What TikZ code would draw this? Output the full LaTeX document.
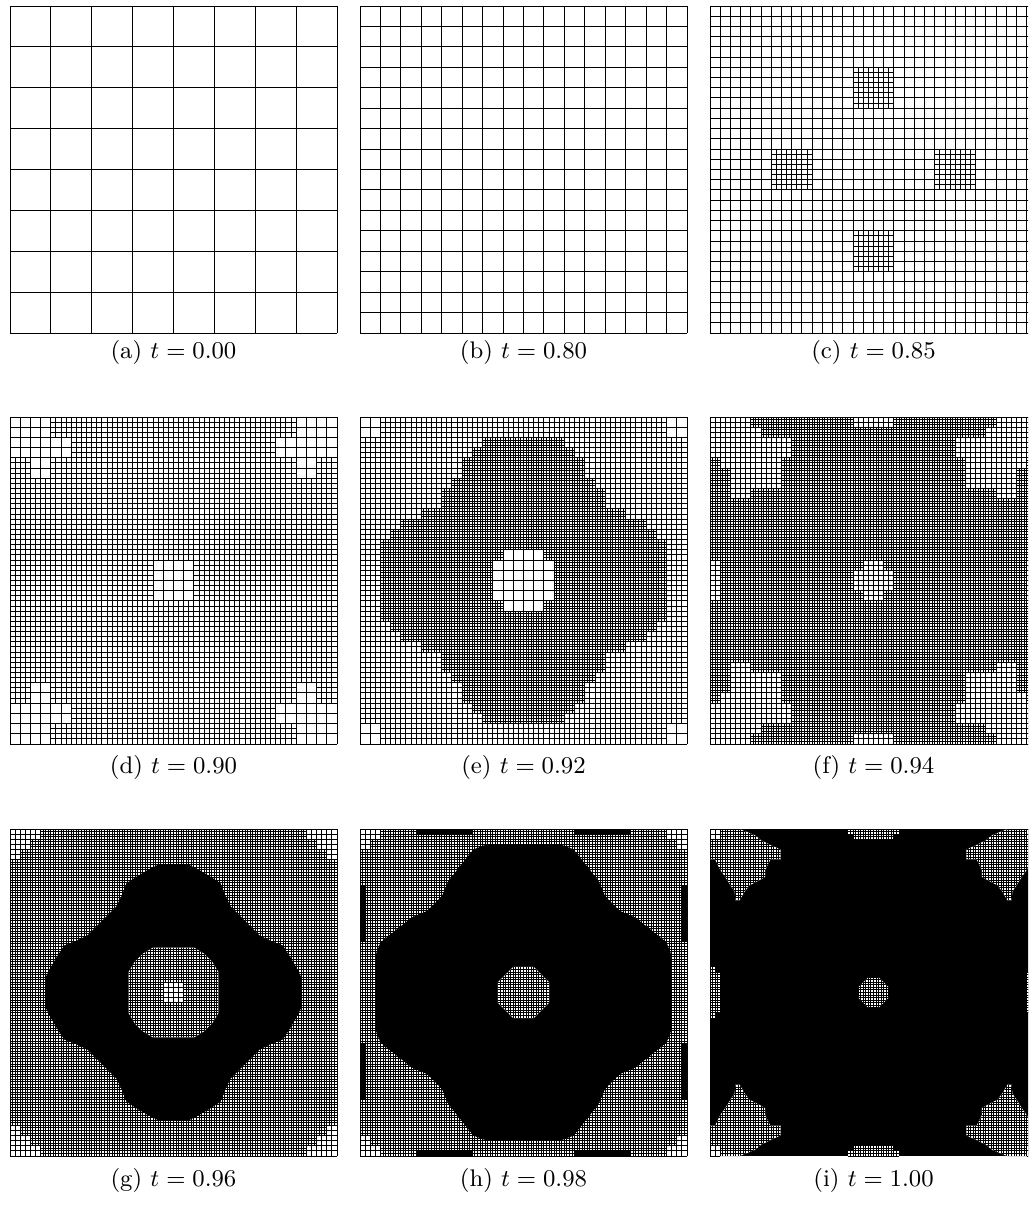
\documentclass[tikz,border=0pt]{standalone}
\usepackage{tikz}
\tikzset{meshline/.style={line width=0.37pt, black}, caplabel/.style={inner sep=0pt, font=\fontsize{9}{11}\selectfont}}
% grid of spacing #1 on rectangle (#2,#3)-(#4,#5)
\newcommand\gridr[5]{%
  \pgfmathtruncatemacro\gnx{round(((#4)-(#2))/(#1))}%
  \pgfmathtruncatemacro\gny{round(((#5)-(#3))/(#1))}%
  \draw[meshline] \foreach \k in {0,...,\gnx}{({(#2)+\k*(#1)},{#3}) -- ({(#2)+\k*(#1)},{#5})}
    \foreach \k in {0,...,\gny}{({#2},{(#3)+\k*(#1)}) -- ({#4},{(#3)+\k*(#1)})};%
}
\newcommand\paint[5]{\fill[white] ({#2},{#3}) rectangle ({#4},{#5}); \gridr{#1}{#2}{#3}{#4}{#5}}
\newcommand\paintsym[2]{%
  \foreach \pa/\pb/\pc/\pd in {#2}{%
    \paint{#1}{\pa}{\pb}{\pc}{\pd}%
    \paint{#1}{32-\pc}{\pb}{32-\pa}{\pd}%
    \paint{#1}{\pa}{32-\pd}{\pc}{32-\pb}%
    \paint{#1}{32-\pc}{32-\pd}{32-\pa}{32-\pb}%
  }}
% shape with 4-fold rotational symmetry about (16,16); #1 = top radius, #2 = first quadrant points
\newcommand\rotshape[2]{(16,{16-(#1)})
  \foreach \p/\q in {#2}{--({16+(\p)},{16+(\q)})}
  \foreach \p/\q in {#2}{--({16+(\q)},{16-(\p)})}
  \foreach \p/\q in {#2}{--({16-(\p)},{16-(\q)})}
  \foreach \p/\q in {#2}{--({16-(\q)},{16+(\p)})} -- cycle}
\newcommand\cornershape[5]{({#1},{#2})
  \foreach \p/\q in {#5}{--({(#1)+(#3)*(\p)},{(#2)+(#4)*(\q)})} -- cycle}
\begin{document}
\begin{tikzpicture}[x=0.374pt,y=-0.374pt]
\useasboundingbox (0,0) rectangle (1028,1209);
\clip (0,0) rectangle (1028,1209);
% (a)
\begin{scope}[shift={(10,6)},x=3.8217pt,y=-3.8217pt]
  \gridr{4}{0}{0}{32}{32}
\end{scope}
% (b)
\begin{scope}[shift={(360,6)},x=3.8217pt,y=-3.8217pt]
  \gridr{2}{0}{0}{32}{32}
\end{scope}
% (c)
\begin{scope}[shift={(710,6)},x=3.8217pt,y=-3.8217pt]
  \gridr{1}{0}{0}{32}{32}
  \gridr{0.5}{14}{6}{18}{10}
  \gridr{0.5}{6}{14}{10}{18}
  \gridr{0.5}{22}{14}{26}{18}
  \gridr{0.5}{14}{22}{18}{26}
\end{scope}
% (d)
\begin{scope}[shift={(10,417)},x=3.8217pt,y=-3.8217pt]
  \gridr{0.5}{0}{0}{32}{32}
  \paintsym{1}{0/0/4/2, 0/2/6/4, 2/4/4/6}
  \paint{1}{14}{14}{18}{18}
\end{scope}
% (e)
\begin{scope}[shift={(360,417)},x=3.8217pt,y=-3.8217pt]
  \gridr{0.5}{0}{0}{32}{32}
  \begin{scope}
    \clip (12,2) -- (20,2) -- (20,3) -- (21,3) -- (21,4) -- (22,4) -- (22,6) -- (23,6) -- (23,7) -- (24,7) -- (24,9) -- (26,9) -- (26,10) -- (28,10) -- (28,11) -- (29,11) -- (29,12) -- (30,12) -- (30,20) -- (29,20) -- (29,21) -- (28,21) -- (28,22) -- (26,22) -- (26,23) -- (24,23) -- (24,25) -- (23,25) -- (23,26) -- (22,26) -- (22,28) -- (21,28) -- (21,29) -- (20,29) -- (20,30) -- (12,30) -- (12,29) -- (11,29) -- (11,28) -- (10,28) -- (10,26) -- (9,26) -- (9,25) -- (8,25) -- (8,23) -- (6,23) -- (6,22) -- (4,22) -- (4,21) -- (3,21) -- (3,20) -- (2,20) -- (2,12) -- (3,12) -- (3,11) -- (4,11) -- (4,10) -- (6,10) -- (6,9) -- (8,9) -- (8,7) -- (9,7) -- (9,6) -- (10,6) -- (10,4) -- (11,4) -- (11,3) -- (12,3) -- cycle;
    \gridr{0.25}{2}{2}{30}{30}
  \end{scope}
  \begin{scope}
    \clip (14,13) -- (18,13) -- (18,14) -- (19,14) -- (19,18) -- (18,18) -- (18,19) -- (14,19) -- (14,18) -- (13,18) -- (13,14) -- (14,14) -- cycle;
    \fill[white] (13,13) rectangle (19,19);
    \gridr{1}{13}{13}{19}{19}
  \end{scope}
  \paintsym{1}{0/0/2/2}
\end{scope}
% (f)
\begin{scope}[shift={(710,417)},x=3.8217pt,y=-3.8217pt]
  \gridr{0.25}{0}{0}{32}{32}
  \paintsym{0.5}{0/0/4/1, 0/1/5/2, 0/2/8/4, 1/4/7/5, 2/5/7/7, 2/7/4/8, 14/0/18/1, 0/14/1/18}
  \paint{0.5}{15}{14}{17}{15}
  \paint{0.5}{14}{15}{18}{17}
  \paint{0.5}{15}{17}{17}{18}
\end{scope}
% (g)
\begin{scope}[shift={(10,829)},x=3.8217pt,y=-3.8217pt]
  \gridr{0.25}{0}{0}{32}{32}
  \fill[black] \rotshape{12.5}{0/-12.5, -1.5/-12.5, -2.5/-12, -3.6/-11.35, -4.6/-10.7, -5.1/-9.4, -5.6/-8.4, -6.6/-7.4, -7.4/-6.6, -8.4/-5.6, -9.4/-5.1, -10.7/-4.6, -11.35/-3.6, -12/-2.5, -12.5/-1.5, -12.5/0};
  \begin{scope}
    \clip \rotshape{4.4}{0/-4.4, -2/-4.4, -3/-3.8, -3.8/-3, -4.4/-2, -4.4/0};
    \fill[white] (11,11) rectangle (21,21);
    \gridr{0.25}{11}{11}{21}{21}
  \end{scope}
  \paint{0.5}{15}{15}{17}{17}
  \paintsym{0.5}{0/0/3/1, 0/1/2/2, 0/2/1/3}
\end{scope}
% (h)
\begin{scope}[shift={(360,829)},x=3.8217pt,y=-3.8217pt]
  \gridr{0.25}{0}{0}{32}{32}
  \fill[black] \rotshape{14.5}{0/-14.5, -3.6/-14.5, -4.9/-14, -5.7/-13, -6.5/-12, -7.35/-10.9, -8/-9.4, -8.7/-8.7, -9.4/-8, -10.9/-7.35, -12/-6.5, -13/-5.7, -14/-4.9, -14.5/-3.6, -14.5/0};
  \fill[black] (5.5,0) rectangle (11,0.5) (21,0) rectangle (26.5,0.5)
    (5.5,31.5) rectangle (11,32) (21,31.5) rectangle (26.5,32)
    (0,5.5) rectangle (0.5,11) (0,21) rectangle (0.5,26.5)
    (31.5,5.5) rectangle (32,11) (31.5,21) rectangle (32,26.5);
  \begin{scope}
    \clip \rotshape{2.5}{0/-2.5, -1/-2.5, -1.5/-2, -2/-1.5, -2.5/-1, -2.5/0};
    \fill[white] (13,13) rectangle (19,19);
    \gridr{0.25}{13}{13}{19}{19}
  \end{scope}
  \paintsym{0.5}{0/0/2/1, 0/1/1/2}
\end{scope}
% (i)
\begin{scope}[shift={(710,829)},x=3.8217pt,y=-3.8217pt]
  \fill[black] (0,0) rectangle (32,32);
  \foreach \ox/\oy/\sx/\sy in {0/0/1/1, 32/0/-1/1, 0/32/1/-1, 32/32/-1/-1}{
    \begin{scope}
      \clip \cornershape{\ox}{\oy}{\sx}{\sy}{2.9/0, 4.4/0.6, 5/1.1, 6/1.6, 6.9/2, 6.9/3, 5.9/3, 5.4/4, 5.4/4.7, 3.9/5.5, 3.4/6.1, 2.9/7, 2.5/7, 2.4/6.1, 2/5.5, 1.5/4.7, 1/4, 0.5/3, 0/3};
      \fill[white] (0,0) rectangle (32,32);
      \gridr{0.25}{0}{0}{32}{32}
    \end{scope}
  }
  \paintsym{0.25}{13.5/0/18.5/0.5, 14/0.5/18/1, 0/13.5/0.5/18.5, 0.5/14/1/18}
  \begin{scope}
    \clip \rotshape{1.5}{0/-1.5, -0.5/-1.5, -1/-1, -1.5/-0.5, -1.5/0};
    \fill[white] (14,14) rectangle (18,18);
    \gridr{0.25}{14}{14}{18}{18}
  \end{scope}
  \paintsym{0.5}{0/0/1/1}
\end{scope}
% captions
\node[caplabel] (capa) at (173.5,352) {(a) $t = 0.00$};
\node[caplabel] (capb) at (523.5,352) {(b) $t = 0.80$};
\node[caplabel] (capc) at (873.5,352) {(c) $t = 0.85$};
\node[caplabel] (capd) at (173.5,767) {(d) $t = 0.90$};
\node[caplabel] (cape) at (523.5,767) {(e) $t = 0.92$};
\node[caplabel] (capf) at (873.5,767) {(f) $t = 0.94$};
\node[caplabel] (capg) at (173.5,1180) {(g) $t = 0.96$};
\node[caplabel] (caph) at (523.5,1180) {(h) $t = 0.98$};
\node[caplabel] (capi) at (873.5,1180) {(i) $t = 1.00$};
\end{tikzpicture}
\end{document}
